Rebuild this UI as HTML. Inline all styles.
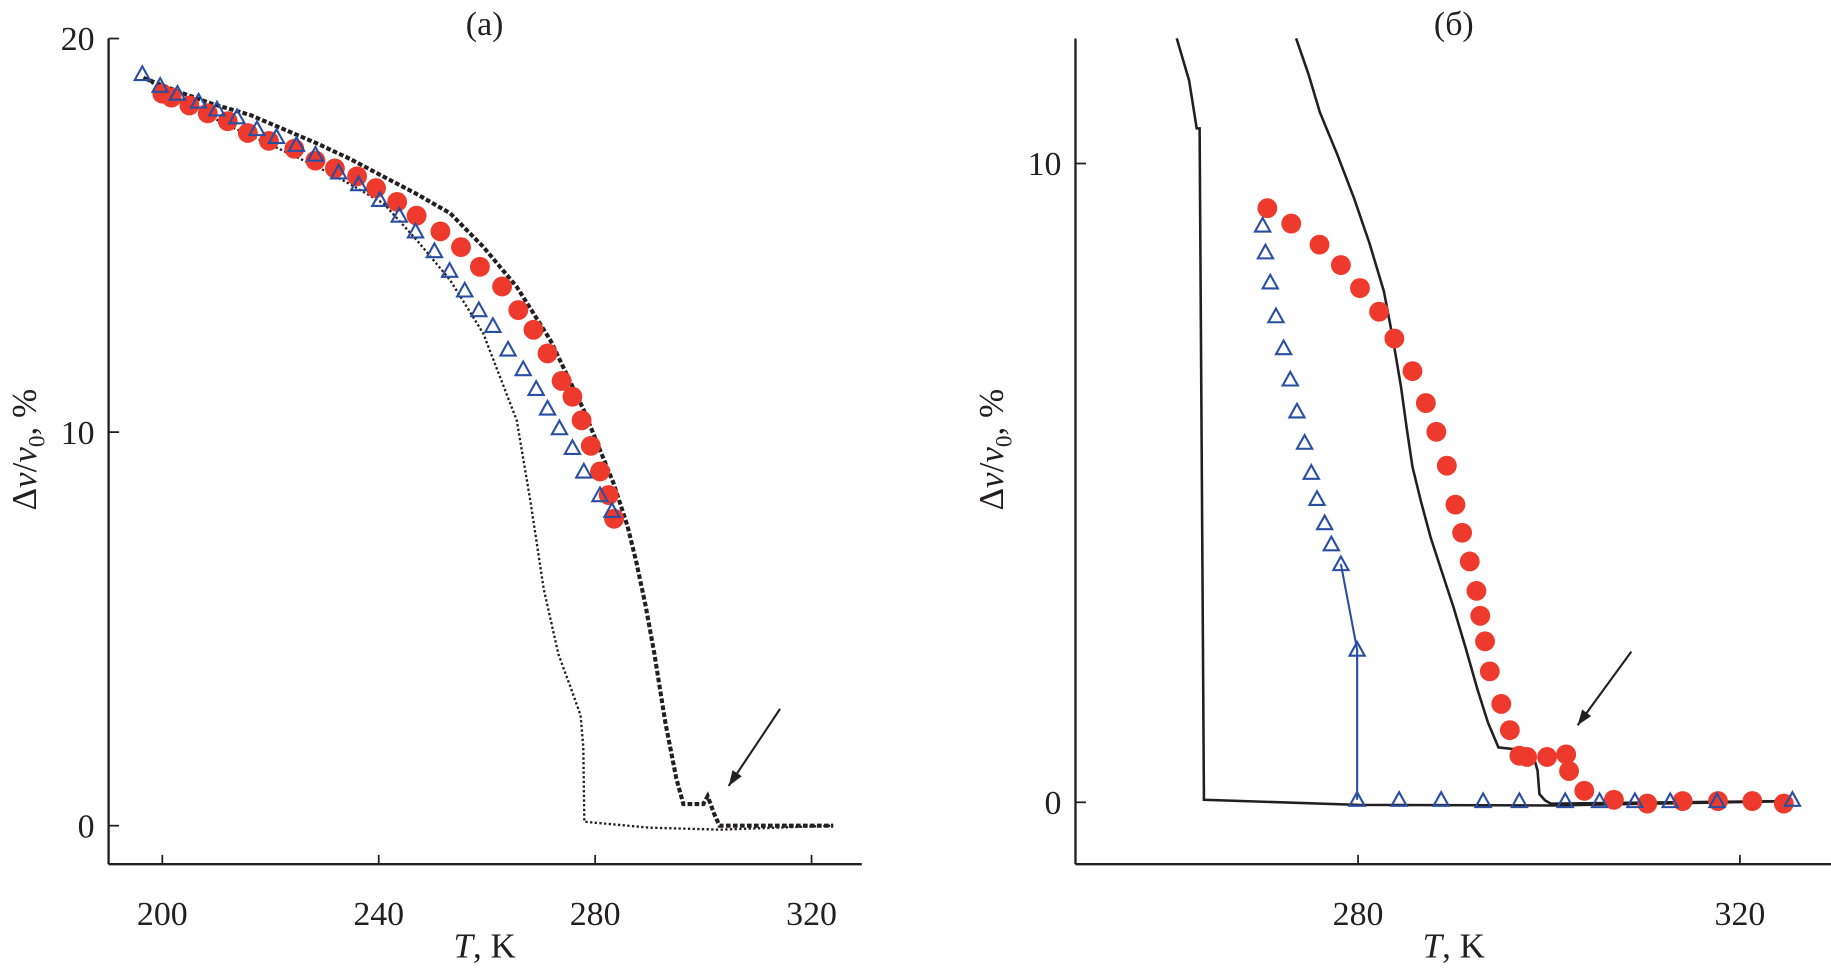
<!DOCTYPE html>
<html><head><meta charset="utf-8"><style>
html,body{margin:0;padding:0;background:#fff;}
svg{display:block;}
text{font-family:"Liberation Serif",serif;fill:#231f20;}
</style></head><body>
<svg id="chart" width="1831" height="974" viewBox="0 0 1568 834" preserveAspectRatio="none" xmlns="http://www.w3.org/2000/svg">
<g id="pa"></g>
<g id="pb"></g>
</svg>
<script>
// ---- Panel (a) data ----
const aXTicks = [200, 240, 280, 320];
const aYTicks = [0, 10, 20];
const aCircT = [200,201.7,205,208.4,212.1,215.8,219.7,224.4,228.3,231.9,236,239.5,243.4,247,251.4,255.2,258.7,262.8,265.8,268.6,271.2,273.8,275.8,277.5,279.2,280.9,282.5,283.5];
const aCircV = [18.6,18.5,18.3,18.1,17.9,17.6,17.4,17.2,16.9,16.7,16.5,16.2,15.85,15.5,15.1,14.7,14.2,13.7,13.1,12.6,12.0,11.3,10.9,10.3,9.65,9.0,8.4,7.8];
const aTriT = [196.3,199.6,202.8,206.7,210.1,213.8,217.5,221.1,224.8,228.3,232.6,236.3,240.2,243.8,246.8,250.3,253.1,255.9,258.5,261.1,263.9,266.7,269.1,271.2,273.4,275.8,277.9,280.9,283.1];
const aTriV = [19.1,18.8,18.6,18.4,18.2,18.0,17.7,17.5,17.3,17.05,16.6,16.3,15.9,15.5,15.1,14.6,14.1,13.6,13.1,12.7,12.1,11.6,11.1,10.6,10.1,9.6,9.0,8.4,8.0];
const aDashT = [196.5,203,209,216.2,222,228.5,234.7,240.9,247,253.2,259.3,265.5,271.7,277.9,283.4,286,287.6,289.3,290.9,293,295,296.3,300,300.8,302,303,324];
const aDashV = [19.0,18.65,18.35,18.06,17.72,17.34,16.94,16.49,16.05,15.56,14.71,13.69,12.34,10.56,8.7,7.6,6.7,5.6,4.4,2.6,1.2,0.55,0.55,0.75,0.3,0,0];
const aDotT = [196.5,205,212,220,228.5,234.7,240.9,247,253.2,259.3,265.5,268,270.5,273.2,275.5,277.3,277.8,278,290,303,324];
const aDotV = [19.0,18.3,17.8,17.3,16.75,16.3,15.81,14.88,13.86,12.51,10.3,8.27,6.0,4.36,3.5,2.8,2.0,0.1,-0.05,-0.1,0];
// ---- Panel (b) data ----
const bXTicks = [280, 320];
const bYTicks = [0, 10];
const bCircT = [270.5,273.0,275.96,278.2,280.2,282.2,283.8,285.7,287.1,288.2,289.3,290.2,290.9,291.7,292.4,292.8,293.3,293.8,295.0,295.9,296.9,297.7,299.8,301.8,302.1,303.7,306.8,310.3,314.0,317.7,321.3,324.6];
const bCircV = [9.3,9.06,8.73,8.41,8.05,7.68,7.26,6.75,6.25,5.8,5.27,4.66,4.22,3.77,3.31,2.92,2.52,2.05,1.54,1.13,0.73,0.71,0.71,0.75,0.49,0.18,0.04,-0.02,0.02,0.02,0.02,-0.02];
const bTriT = [270.0,270.3,270.8,271.4,272.2,272.9,273.6,274.4,275.1,275.7,276.5,277.2,278.2,279.9,279.9,284.3,288.7,293.1,296.9,301.7,305.3,309.0,312.7,317.6,325.5];
const bTriV = [9.03,8.61,8.14,7.61,7.11,6.62,6.12,5.63,5.16,4.75,4.37,4.04,3.73,2.39,0.04,0.04,0.04,0.02,0.02,0.02,0.02,0.02,0.02,0.02,0.04];
const bLine1T = [261.0,262.3,263.1,263.4,263.85,280,300.4,325.5];
const bLine1V = [11.96,11.3,10.55,10.55,0.04,-0.04,-0.05,0.02];
const bLine2T = [273.5,274.8,276,277.8,279.6,281.2,282.7,283.6,284.5,285.1,285.7,286.6,287.6,288.8,290,291.3,292.5,293.6,294.7,298.2,298.8,299,299.6,300.2,325.5];
const bLine2V = [11.96,11.4,10.8,10.15,9.45,8.75,8.0,7.3,6.5,5.85,5.25,4.7,4.15,3.6,3.05,2.4,1.77,1.25,0.86,0.8,0.5,0.13,0.03,-0.02,0.02];

const NS = "http://www.w3.org/2000/svg";
function mk(parent, tag, attrs, name, txt){
  const e = document.createElementNS(NS, tag);
  for (const k in attrs) e.setAttribute(k, attrs[k]);
  
  
  if (txt !== undefined) e.textContent = txt;
  parent.appendChild(e);
  return e;
}
function lin(d0,d1,r0,r1){ return v => r0 + (v-d0)/(d1-d0)*(r1-r0); }
function path(xs, ys, X, Y){ return xs.map((t,i)=>(i?'L':'M')+X(t).toFixed(1)+','+Y(ys[i]).toFixed(1)).join(''); }
function tri(g, x, y, name){
  const s=6.5;
  mk(g,'path',{d:`M${x},${y-s}L${x+s},${y+s*0.8}L${x-s},${y+s*0.8}Z`,fill:'none',stroke:'#2a4ea2','stroke-width':1.8},name);
}
function axes(g, left, right, top, bottom, X, Y, xt, yt, title, titleX){
  mk(g,'line',{x1:left,y1:top,x2:left,y2:bottom,stroke:'#231f20','stroke-width':2},'y-axis-line');
  mk(g,'line',{x1:left,y1:bottom,x2:right,y2:bottom,stroke:'#231f20','stroke-width':2},'x-axis-line');
  xt.forEach(t=>{
    mk(g,'line',{x1:X(t),y1:bottom,x2:X(t),y2:bottom-8,stroke:'#231f20','stroke-width':1.5},'x-tick');
    mk(g,'text',{x:X(t),y:bottom+52,'text-anchor':'middle','font-size':29},'x-tick-label',String(t));
  });
  yt.forEach(v=>{
    mk(g,'line',{x1:left,y1:Y(v),x2:left+9,y2:Y(v),stroke:'#231f20','stroke-width':1.5},'y-tick');
    mk(g,'text',{x:left-12,y:Y(v)+10,'text-anchor':'end','font-size':29},'y-tick-label',String(v));
  });
  mk(g,'text',{x:titleX,y:30,'text-anchor':'middle','font-size':29},'panel-title',title);
  const xl = mk(g,'text',{x:titleX,y:820,'text-anchor':'middle','font-size':30},'x-axis-title');
  xl.innerHTML = '<tspan font-style="italic">T</tspan>, K';
  const yl = mk(g,'text',{x:0,y:0,'text-anchor':'middle','font-size':30,transform:`translate(${left-62},385) rotate(-90)`},'y-axis-title');
  yl.innerHTML = 'Δ<tspan font-style="italic">v</tspan>/<tspan font-style="italic">v</tspan><tspan font-size="20" dy="7">0</tspan><tspan dy="-7">, %</tspan>';
}
function arrow(g,x1,y1,x2,y2){
  mk(g,'line',{x1:x1,y1:y1,x2:x2,y2:y2,stroke:'#231f20','stroke-width':1.8},'arrow-line');
  const a=Math.atan2(y2-y1,x2-x1), L=14, w=0.35;
  mk(g,'path',{d:`M${x2},${y2}L${x2-L*Math.cos(a-w)},${y2-L*Math.sin(a-w)}L${x2-L*Math.cos(a+w)},${y2-L*Math.sin(a+w)}Z`,fill:'#231f20'},'arrow-head');
}
// Panel a
(function(){
  const g=document.getElementById('pa');
  const X=lin(200,320,139,695), Y=lin(0,20,707,33);
  axes(g,93,738,33,740,X,Y,aXTicks,aYTicks,'(a)',415);
  mk(g,'path',{d:path(aDotT,aDotV,X,Y),fill:'none',stroke:'#231f20','stroke-width':2,'stroke-dasharray':'2 2'},'dotted-curve');
  mk(g,'path',{d:path(aDashT,aDashV,X,Y),fill:'none',stroke:'#231f20','stroke-width':3.5,'stroke-dasharray':'4 2'},'dashed-curve');
  aCircT.forEach((t,i)=>mk(g,'circle',{cx:X(t),cy:Y(aCircV[i]),r:8.5,fill:'#ee3a2c'},'red-circle-point'));
  aTriT.forEach((t,i)=>tri(g,X(t),Y(aTriV[i]),'blue-triangle-point'));
  arrow(g,668,607,624,673);
})();
// Panel b
(function(){
  const g=document.getElementById('pb');
  const X=lin(280,320,1163,1490), Y=lin(0,10,687,140);
  axes(g,921,1568,33,740,X,Y,bXTicks,bYTicks,'(б)',1245);
  mk(g,'path',{d:path(bLine1T,bLine1V,X,Y),fill:'none',stroke:'#231f20','stroke-width':2.2},'black-curve-1');
  mk(g,'path',{d:path(bLine2T,bLine2V,X,Y),fill:'none',stroke:'#231f20','stroke-width':2.2},'black-curve-2');
  mk(g,'path',{d:path(bTriT.slice(12,15),bTriV.slice(12,15),X,Y),fill:'none',stroke:'#2a4ea2','stroke-width':1.8},'blue-line');
  bCircT.forEach((t,i)=>mk(g,'circle',{cx:X(t),cy:Y(bCircV[i]),r:8.5,fill:'#ee3a2c'},'red-circle-point'));
  bTriT.forEach((t,i)=>tri(g,X(t),Y(bTriV[i]),'blue-triangle-point'));
  arrow(g,1397,558,1351,621);
})();
</script>
</body></html>
